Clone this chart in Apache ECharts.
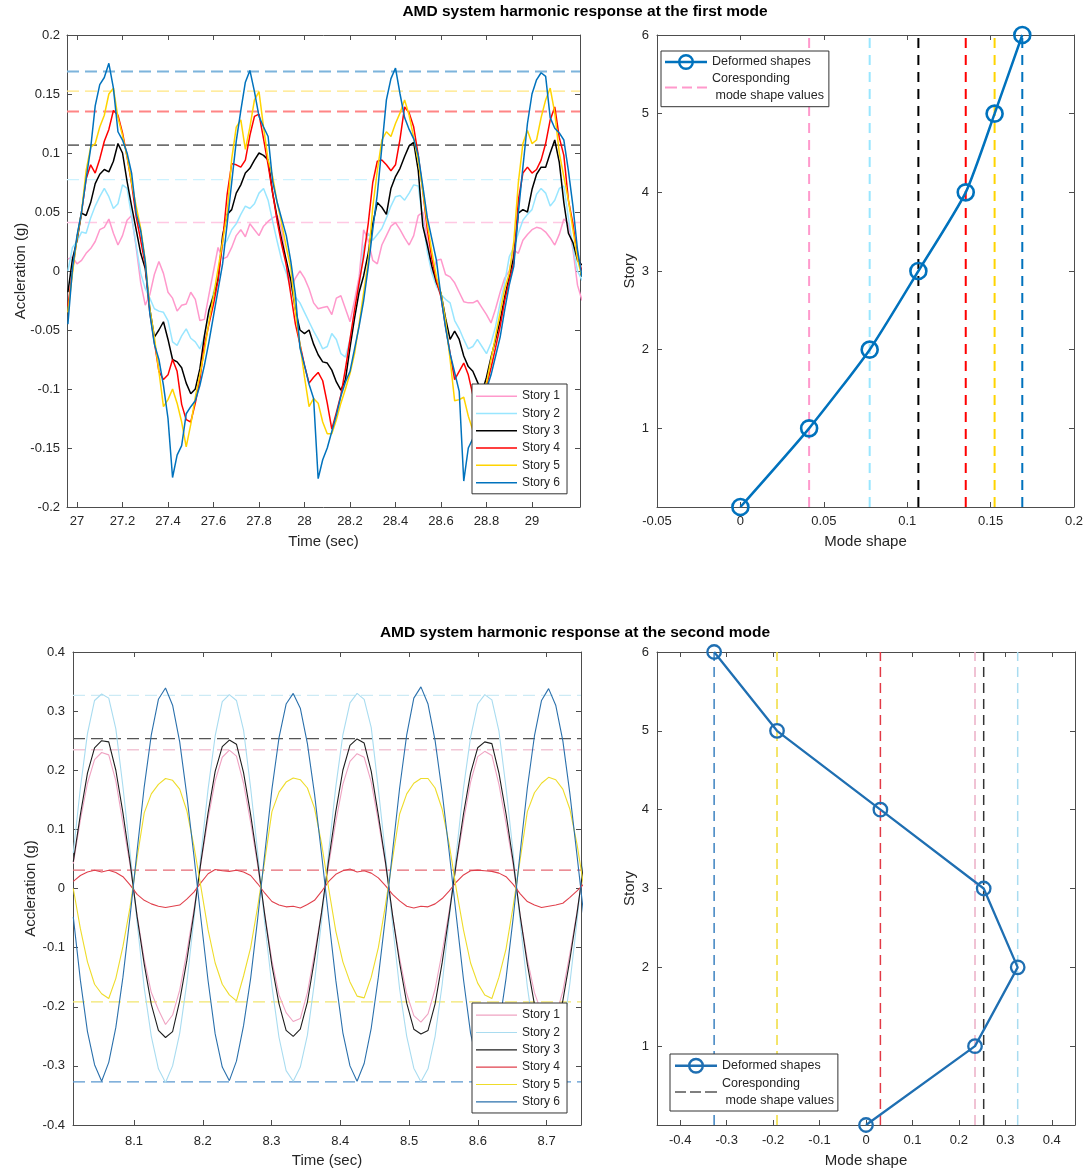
<!DOCTYPE html>
<html>
<head>
<meta charset="utf-8">
<script src="https://cdn.jsdelivr.net/npm/echarts@6/dist/echarts.min.js"></script>
<style>
  html, body { margin: 0; padding: 0; background: #ffffff; }
  #chart { width: 1088px; height: 1175px; }
</style>
</head>
<body>
<div id="chart"></div>
<script>
// ---------------------------------------------------------------------------
// Story labels and mode shape values (first and second mode)
// ---------------------------------------------------------------------------
const storyNames = ['Story 1', 'Story 2', 'Story 3', 'Story 4', 'Story 5', 'Story 6'];
const storyLevels = [0, 1, 2, 3, 4, 5, 6];
const modeShape1 = [0, 0.0412, 0.0775, 0.1067, 0.1351, 0.1524, 0.169];
const modeShape2 = [0, 0.2347, 0.3266, 0.2534, 0.031, -0.1916, -0.327];

// Tick labels
const firstTimeTicks = [27, 27.2, 27.4, 27.6, 27.8, 28, 28.2, 28.4, 28.6, 28.8, 29];
const secondTimeTicks = [8.1, 8.2, 8.3, 8.4, 8.5, 8.6, 8.7];
const storyTicks = [1, 2, 3, 4, 5, 6];
const secondModeTicks = [-0.4, -0.3, -0.2, -0.1, 0, 0.1, 0.2, 0.3, 0.4];

// ---------------------------------------------------------------------------
// First mode: floor accelerations (g), sampled every 0.02 s from 26.96 s
// ---------------------------------------------------------------------------
const firstStart = 26.96;
const firstStep = 0.02;

const story1First = [
  0.01, 0.012, 0.006, 0.009, 0.015, 0.019, 0.025, 0.035, 0.037, 0.044,
  0.032, 0.022, 0.03, 0.043, 0.047, 0.02, -0.01, -0.029, -0.02, -0.003,
  0.008, -0.002, -0.018, -0.023, -0.034, -0.029, -0.028, -0.018, -0.024, -0.042,
  -0.041, -0.02, 0.0, 0.02, 0.01, 0.012, 0.02, 0.03, 0.035, 0.029,
  0.04, 0.035, 0.03, 0.038, 0.042, 0.045, 0.047, 0.035, 0.005, -0.014,
  -0.006, 0.0, -0.006, -0.015, -0.027, -0.032, -0.031, -0.03, -0.037, -0.023,
  -0.021, -0.032, -0.043, -0.025, -0.005, 0.035, 0.026, 0.009, 0.006, 0.022,
  0.03, 0.038, 0.041, 0.035, 0.028, 0.022, 0.03, 0.047, 0.05, 0.025,
  -0.002, 0.009, 0.01, -0.003, -0.005, -0.01, -0.018, -0.026, -0.027, -0.027,
  -0.025, -0.031, -0.037, -0.044, -0.032, -0.018, -0.006, 0.0, 0.018, 0.015,
  0.026, 0.031, 0.035, 0.037, 0.036, 0.033, 0.028, 0.022, 0.031, 0.044,
  0.04, 0.018, -0.012, -0.025
];
const story2First = [
  0.0, 0.02, 0.025, 0.033, 0.032, 0.045, 0.055, 0.063, 0.07, 0.063,
  0.053, 0.057, 0.073, 0.07, 0.046, 0.022, -0.002, -0.015, -0.023, -0.032,
  -0.034, -0.035, -0.042, -0.06, -0.063, -0.055, -0.049, -0.057, -0.06, -0.066,
  -0.055, -0.035, -0.018, -0.005, 0.021, 0.026, 0.035, 0.04, 0.048, 0.055,
  0.053, 0.057, 0.066, 0.07, 0.06, 0.042, 0.025, 0.009, -0.002, -0.015,
  -0.022, -0.027, -0.035, -0.043, -0.051, -0.058, -0.066, -0.064, -0.053, -0.058,
  -0.07, -0.073, -0.058, -0.04, -0.014, 0.02, 0.032, 0.026, 0.031, 0.036,
  0.045, 0.055, 0.063, 0.064, 0.06, 0.066, 0.073, 0.072, 0.043, 0.016,
  -0.002, -0.013, -0.02, -0.024, -0.027, -0.042, -0.049, -0.058, -0.066, -0.064,
  -0.058, -0.064, -0.07, -0.061, -0.047, -0.027, -0.01, 0.012, 0.02, 0.032,
  0.043, 0.048, 0.052, 0.065, 0.07, 0.066, 0.055, 0.06, 0.07, 0.072,
  0.045, 0.02, 0.0, -0.008
];
const story3First = [
  -0.018, 0.01, 0.026, 0.049, 0.047, 0.058, 0.074, 0.082, 0.086, 0.084,
  0.093, 0.108, 0.1, 0.076, 0.055, 0.035, 0.015, 0.002, -0.032, -0.056,
  -0.05, -0.043, -0.058, -0.075, -0.077, -0.082, -0.095, -0.104, -0.1, -0.083,
  -0.055, -0.033, -0.021, -0.007, 0.03, 0.048, 0.052, 0.066, 0.073, 0.083,
  0.087, 0.094, 0.1, 0.098, 0.094, 0.066, 0.045, 0.026, 0.009, -0.008,
  -0.033, -0.05, -0.053, -0.05, -0.062, -0.071, -0.077, -0.078, -0.084, -0.094,
  -0.101, -0.092, -0.065, -0.04, -0.018, -0.004, 0.015, 0.04, 0.058, 0.054,
  0.048, 0.07, 0.08, 0.087, 0.097, 0.106, 0.109, 0.085, 0.038, 0.022,
  0.004, -0.01, -0.019, -0.04, -0.058, -0.051, -0.058, -0.072, -0.081, -0.085,
  -0.094, -0.103, -0.09, -0.073, -0.058, -0.042, -0.022, -0.005, 0.012, 0.049,
  0.052, 0.05, 0.069, 0.082, 0.088, 0.088, 0.1, 0.111, 0.092, 0.058,
  0.032, 0.024, 0.009, 0.005
];
const story4First = [
  -0.03, 0.0, 0.028, 0.05, 0.078, 0.09, 0.083, 0.095, 0.11, 0.12,
  0.136, 0.132, 0.117, 0.097, 0.074, 0.046, 0.026, 0.005, -0.035, -0.06,
  -0.085, -0.092, -0.088, -0.075, -0.085, -0.113, -0.126, -0.128, -0.112, -0.092,
  -0.063, -0.045, -0.028, -0.008, 0.025, 0.065, 0.091, 0.09, 0.088, 0.094,
  0.115, 0.131, 0.133, 0.112, 0.09, 0.066, 0.042, 0.022, 0.005, -0.02,
  -0.045, -0.062, -0.08, -0.095, -0.09, -0.086, -0.093, -0.112, -0.134, -0.12,
  -0.105, -0.083, -0.058, -0.033, -0.01, 0.012, 0.04, 0.075, 0.093, 0.094,
  0.09, 0.085, 0.09, 0.112, 0.139, 0.134, 0.122, 0.098, 0.068, 0.035,
  0.01, -0.008, -0.022, -0.047, -0.07, -0.092, -0.085, -0.078, -0.088, -0.105,
  -0.122, -0.115, -0.097, -0.082, -0.065, -0.047, -0.025, -0.008, 0.007, 0.06,
  0.083, 0.088, 0.083, 0.086, 0.094, 0.108, 0.128, 0.139, 0.113, 0.098,
  0.06, 0.04, 0.012, 0.0
];
const story5First = [
  -0.035, -0.002, 0.028, 0.05, 0.085, 0.105, 0.108, 0.122, 0.132, 0.15,
  0.155, 0.13, 0.115, 0.097, 0.075, 0.055, 0.036, 0.009, -0.032, -0.056,
  -0.085, -0.115, -0.109, -0.1, -0.112, -0.128, -0.149, -0.13, -0.107, -0.088,
  -0.068, -0.043, -0.021, 0.002, 0.025, 0.049, 0.095, 0.122, 0.128, 0.103,
  0.122, 0.145, 0.152, 0.122, 0.094, 0.08, 0.058, 0.04, 0.02, 0.002,
  -0.035, -0.062, -0.09, -0.115, -0.108, -0.112, -0.128, -0.138, -0.138, -0.126,
  -0.112, -0.1, -0.087, -0.07, -0.045, -0.018, 0.008, 0.054, 0.085, 0.111,
  0.118, 0.114, 0.125, 0.134, 0.145, 0.132, 0.113, 0.093, 0.068, 0.04,
  0.016, -0.005, -0.019, -0.042, -0.075, -0.11, -0.109, -0.107, -0.123, -0.135,
  -0.13, -0.115, -0.095, -0.075, -0.055, -0.035, -0.015, -0.002, 0.025, 0.075,
  0.108, 0.119, 0.108, 0.111, 0.13, 0.145, 0.155, 0.134, 0.1, 0.08,
  0.06, 0.035, 0.01, -0.005
];
const story6First = [
  -0.045, 0.002, 0.03, 0.05, 0.078, 0.104, 0.14, 0.158, 0.164, 0.176,
  0.155, 0.118, 0.111, 0.1, 0.083, 0.049, 0.034, 0.008, -0.036, -0.062,
  -0.075, -0.097, -0.125, -0.175, -0.156, -0.148, -0.121, -0.115, -0.11, -0.097,
  -0.08, -0.06, -0.038, -0.016, 0.006, 0.04, 0.075, 0.11, 0.136, 0.16,
  0.17, 0.152, 0.131, 0.122, 0.114, 0.076, 0.058, 0.044, 0.03, 0.008,
  -0.02, -0.065, -0.08, -0.096, -0.108, -0.176, -0.16, -0.15, -0.136, -0.122,
  -0.106, -0.094, -0.085, -0.066, -0.047, -0.025, 0.003, 0.035, 0.065, 0.105,
  0.145, 0.163, 0.172, 0.15, 0.13, 0.12, 0.112, 0.098, 0.072, 0.045,
  0.027, 0.009, -0.022, -0.048, -0.07, -0.086, -0.102, -0.178, -0.15, -0.142,
  -0.126, -0.112, -0.1, -0.088, -0.072, -0.056, -0.033, -0.012, 0.004, 0.049,
  0.088, 0.125, 0.15, 0.162, 0.168, 0.165, 0.13, 0.121, 0.117, 0.111,
  0.085, 0.055, 0.018, -0.005
];

// ---------------------------------------------------------------------------
// Second mode: floor accelerations (g), sampled every ~0.0103 s from 8.0117 s
// ---------------------------------------------------------------------------
const secondStart = 8.0117;
const secondStep = 0.0103167;

const story1Second = [
  0.042, 0.116, 0.178, 0.218,
  0.23, 0.226, 0.182, 0.11, 0.04, -0.046, -0.12, -0.176, -0.205, -0.23, -0.214, -0.172, -0.108, -0.036, 0.043, 0.118, 0.182, 0.222,
  0.234, 0.224, 0.178, 0.112, 0.038, -0.044, -0.122, -0.18, -0.21, -0.225, -0.22, -0.176, -0.11, -0.04, 0.04, 0.113, 0.176, 0.215,
  0.228, 0.222, 0.18, 0.114, 0.042, -0.045, -0.118, -0.178, -0.215, -0.226, -0.212, -0.17, -0.107, -0.037, 0.041, 0.114, 0.18, 0.223,
  0.232, 0.225, 0.176, 0.11, 0.04, -0.046, -0.12, -0.176, -0.21, -0.228, -0.216, -0.174, -0.11, -0.04, 0.04
];
const story2Second = [
  0.06, 0.17, 0.262, 0.318,
  0.329, 0.322, 0.27, 0.172, 0.062, -0.058, -0.168, -0.25, -0.305, -0.328, -0.3, -0.245, -0.16, -0.052, 0.058, 0.168, 0.258, 0.316,
  0.328, 0.318, 0.268, 0.17, 0.06, -0.06, -0.165, -0.252, -0.308, -0.326, -0.302, -0.248, -0.158, -0.055, 0.062, 0.172, 0.26, 0.314,
  0.33, 0.32, 0.272, 0.168, 0.058, -0.06, -0.17, -0.25, -0.304, -0.327, -0.305, -0.25, -0.162, -0.05, 0.06, 0.17, 0.256, 0.312,
  0.328, 0.319, 0.266, 0.17, 0.06, -0.058, -0.166, -0.25, -0.306, -0.327, -0.303, -0.246, -0.16, -0.055, 0.058
];
const story3Second = [
  0.045, 0.125, 0.195, 0.238,
  0.25, 0.248, 0.2, 0.128, 0.045, -0.048, -0.128, -0.196, -0.24, -0.252, -0.242, -0.19, -0.122, -0.042, 0.046, 0.128, 0.198, 0.24,
  0.251, 0.244, 0.196, 0.125, 0.044, -0.046, -0.13, -0.195, -0.24, -0.25, -0.238, -0.192, -0.12, -0.04, 0.048, 0.13, 0.2, 0.242,
  0.253, 0.246, 0.198, 0.124, 0.045, -0.045, -0.126, -0.194, -0.238, -0.246, -0.24, -0.195, -0.125, -0.043, 0.045, 0.126, 0.195, 0.238,
  0.248, 0.245, 0.195, 0.126, 0.046, -0.047, -0.128, -0.196, -0.24, -0.25, -0.24, -0.19, -0.12, -0.042, 0.045
];
const story4Second = [
  0.012, 0.022, 0.028, 0.031,
  0.028, 0.031, 0.027, 0.02, 0.006, -0.01, -0.02, -0.026, -0.03, -0.032, -0.03, -0.028, -0.018, -0.006, 0.01, 0.025, 0.032, 0.03,
  0.029, 0.031, 0.028, 0.022, 0.008, -0.008, -0.022, -0.028, -0.031, -0.03, -0.033, -0.027, -0.02, -0.005, 0.012, 0.024, 0.03, 0.033,
  0.028, 0.03, 0.026, 0.018, 0.005, -0.01, -0.021, -0.03, -0.033, -0.03, -0.031, -0.026, -0.017, -0.004, 0.011, 0.023, 0.03, 0.031,
  0.03, 0.029, 0.026, 0.02, 0.007, -0.009, -0.022, -0.028, -0.032, -0.03, -0.028, -0.025, -0.015, -0.004, 0.008
];
const story5Second = [
  0.0, -0.068, -0.124, -0.162,
  -0.178, -0.186, -0.152, -0.098, -0.032, 0.052, 0.128, 0.16, 0.176, 0.186, 0.183, 0.168, 0.132, 0.072, 0.002, -0.07, -0.126, -0.162,
  -0.18, -0.19, -0.148, -0.1, -0.03, 0.048, 0.13, 0.163, 0.18, 0.187, 0.184, 0.17, 0.136, 0.076, 0.0, -0.072, -0.124, -0.158,
  -0.182, -0.185, -0.15, -0.1, -0.028, 0.05, 0.126, 0.16, 0.178, 0.186, 0.186, 0.17, 0.134, 0.074, -0.002, -0.07, -0.126, -0.16,
  -0.18, -0.186, -0.15, -0.102, -0.03, 0.05, 0.13, 0.162, 0.178, 0.188, 0.184, 0.168, 0.134, 0.075, 0.0
];
const story6Second = [
  -0.048, -0.155, -0.242, -0.298,
  -0.326, -0.294, -0.235, -0.15, -0.048, 0.064, 0.172, 0.26, 0.32, 0.339, 0.31, 0.248, 0.158, 0.056, -0.052, -0.156, -0.246, -0.302,
  -0.325, -0.292, -0.232, -0.152, -0.05, 0.06, 0.168, 0.255, 0.312, 0.33, 0.305, 0.245, 0.16, 0.058, -0.05, -0.155, -0.244, -0.3,
  -0.326, -0.296, -0.236, -0.15, -0.048, 0.062, 0.17, 0.26, 0.322, 0.341, 0.312, 0.25, 0.162, 0.06, -0.048, -0.154, -0.245, -0.298,
  -0.325, -0.294, -0.234, -0.152, -0.05, 0.062, 0.17, 0.258, 0.318, 0.338, 0.31, 0.25, 0.16, 0.056, -0.05
];

// ---------------------------------------------------------------------------
// Styling
// ---------------------------------------------------------------------------
const FONT = "'Liberation Sans', Arial, Helvetica, sans-serif";
const AXIS_COLOR = '#4d4d4d';
const LABEL_COLOR = '#262626';

const firstColors = ['#FF99CC', '#99E6FF', '#000000', '#FF0000', '#FFD400', '#0072BD'];
const firstRefColors = ['#FFC8E3', '#CCF2FF', '#707070', '#FF8585', '#FFE680', '#7DB4DC'];
const secondColors = ['#EFA3C2', '#A9DCF0', '#1E1E1E', '#E0404C', '#EEDC2A', '#2A70AC'];
const secondRefColors = ['#F2C6D6', '#CDEBF5', '#555555', '#E56A74', '#F2E66E', '#5A98CF'];
const secondVertColors = ['#EBAFC6', '#A9DCF0', '#333333', '#E23A46', '#F0DC3A', '#3C82C0'];

// Legend icons (drawn in their own itemWidth x itemHeight boxes)
const LINE_ICON = 'path://M0,0h41v1.5h-41z';
const THIN_LINE_ICON = 'path://M0,0h41v1.2h-41z';
const MARKER_ICON = 'path://M0,6.8h42v2.4h-42z M21,0a8,8 0 1,1 0,16a8,8 0 1,1 0,-16z M21,2.4a5.6,5.6 0 1,0 0,11.2a5.6,5.6 0 1,0 0,-11.2z';
const DASH_ICON = 'path://M0,0h0.01v0.01h-0.01z M41.99,15.99h0.01v0.01h-0.01z M0,7h12v2h-12z M17,7h10v2h-10z M32,7h10v2h-10z';
const DASH_ICON_THIN = 'path://M0,0h0.01v0.01h-0.01z M41.99,15.99h0.01v0.01h-0.01z M0,7.3h11v1.4h-11z M15,7.3h11v1.4h-11z M30,7.3h12v1.4h-12z';

const CORRESPONDING = 'Coresponding\n mode shape values';

function timePairs(start, step, values) {
  return values.map((v, i) => [+(start + i * step).toFixed(5), v]);
}

function makeAxis(dim, gridIndex, position, min, max, ticks, opts) {
  const axis = {
    type: 'value', gridIndex: gridIndex, position: position, min: min, max: max,
    axisLine: { show: true, onZero: false, lineStyle: { color: AXIS_COLOR, width: 1 } },
    axisTick: { show: true, inside: true, length: 5, lineStyle: { color: AXIS_COLOR, width: 1 } },
    axisLabel: {
      show: !opts.mirror, margin: opts.margin || 8, fontSize: 13, color: LABEL_COLOR,
      fontFamily: FONT, showMinLabel: true, showMaxLabel: true, hideOverlap: false
    },
    splitLine: { show: false },
    nameMoveOverlap: false
  };
  if (ticks.interval) axis.interval = ticks.interval;
  if (ticks.values) {
    axis.axisLabel.customValues = ticks.values;
    axis.axisTick.customValues = ticks.values;
  }
  if (opts.name) {
    axis.name = opts.name;
    axis.nameLocation = 'middle';
    axis.nameGap = opts.nameGap;
    if (dim === 'y') axis.nameRotate = 90;
    axis.nameTextStyle = { fontSize: 15, color: LABEL_COLOR, fontFamily: FONT };
  }
  return axis;
}

// Axis extents of the four panels
const FIRST_T = [26.956, 29.211];
const SECOND_T = [8.0113, 8.75];

const xAxes = [
  makeAxis('x', 0, 'bottom', FIRST_T[0], FIRST_T[1], { values: firstTimeTicks }, { name: 'Time (sec)', nameGap: 27, margin: 8 }),
  makeAxis('x', 0, 'top', FIRST_T[0], FIRST_T[1], { values: firstTimeTicks }, { mirror: true }),
  makeAxis('x', 1, 'bottom', -0.05, 0.2, { interval: 0.05 }, { name: 'Mode shape', nameGap: 27, margin: 8 }),
  makeAxis('x', 1, 'top', -0.05, 0.2, { interval: 0.05 }, { mirror: true }),
  makeAxis('x', 2, 'bottom', SECOND_T[0], SECOND_T[1], { values: secondTimeTicks }, { name: 'Time (sec)', nameGap: 28, margin: 10 }),
  makeAxis('x', 2, 'top', SECOND_T[0], SECOND_T[1], { values: secondTimeTicks }, { mirror: true }),
  makeAxis('x', 3, 'bottom', -0.45, 0.45, { values: secondModeTicks }, { name: 'Mode shape', nameGap: 28, margin: 9 }),
  makeAxis('x', 3, 'top', -0.45, 0.45, { values: secondModeTicks }, { mirror: true })
];
const yAxes = [
  makeAxis('y', 0, 'left', -0.2, 0.2, { interval: 0.05 }, { name: 'Accleration (g)', nameGap: 39, margin: 7 }),
  makeAxis('y', 0, 'right', -0.2, 0.2, { interval: 0.05 }, { mirror: true }),
  makeAxis('y', 1, 'left', 0, 6, { values: storyTicks }, { name: 'Story', nameGap: 20, margin: 8 }),
  makeAxis('y', 1, 'right', 0, 6, { values: storyTicks }, { mirror: true }),
  makeAxis('y', 2, 'left', -0.4, 0.4, { interval: 0.1 }, { name: 'Accleration (g)', nameGap: 35, margin: 8 }),
  makeAxis('y', 2, 'right', -0.4, 0.4, { interval: 0.1 }, { mirror: true }),
  makeAxis('y', 3, 'left', 0, 6, { values: storyTicks }, { name: 'Story', nameGap: 20, margin: 8 }),
  makeAxis('y', 3, 'right', 0, 6, { values: storyTicks }, { mirror: true })
];

// ---------------------------------------------------------------------------
// Series
// ---------------------------------------------------------------------------
const series = [];
const firstSeriesValues = [story1First, story2First, story3First, story4First, story5First, story6First];
const secondSeriesValues = [story1Second, story2Second, story3Second, story4Second, story5Second, story6Second];
const refWidths1 = [1.5, 1.2, 1.8, 2, 1.2, 2];

// First mode, time histories: reference level of each story (dashed) underneath
storyNames.forEach((name, s) => {
  const v = modeShape1[s + 1];
  series.push({
    type: 'line', name: name + ' first-mode value', xAxisIndex: 0, yAxisIndex: 0,
    data: [[FIRST_T[0], v], [FIRST_T[1], v]], symbol: 'none', silent: true, z: 1,
    lineStyle: { color: firstRefColors[s], width: refWidths1[s], type: [12, 6] },
    itemStyle: { color: firstRefColors[s] }
  });
});
firstSeriesValues.forEach((vals, s) => {
  series.push({
    type: 'line', name: storyNames[s], xAxisIndex: 0, yAxisIndex: 0,
    data: timePairs(firstStart, firstStep, vals), symbol: 'none', z: 3,
    lineStyle: { color: firstColors[s], width: 1.5 },
    itemStyle: { color: firstColors[s] }
  });
});

// First mode, deformed shape with the corresponding values
storyNames.forEach((name, s) => {
  const v = modeShape1[s + 1];
  series.push({
    type: 'line', name: s === 0 ? CORRESPONDING : name + ' first-mode line',
    xAxisIndex: 2, yAxisIndex: 2,
    data: [[v, storyLevels[0]], [v, storyLevels[6]]], symbol: 'none', silent: true, z: 2,
    lineStyle: { color: firstColors[s], width: 2, type: [10, 7] },
    itemStyle: { color: firstColors[s] }
  });
});
series.push({
  type: 'line', name: 'Deformed shapes', xAxisIndex: 2, yAxisIndex: 2,
  data: modeShape1.map((v, i) => [v, storyLevels[i]]),
  smooth: 0.2,
  symbol: 'circle', symbolSize: 16, z: 4,
  lineStyle: { color: '#0072BD', width: 2.5 },
  itemStyle: { color: 'rgba(255,255,255,0)', borderColor: '#0072BD', borderWidth: 2.6 }
});

// Second mode, time histories
storyNames.forEach((name, s) => {
  const v = modeShape2[s + 1];
  series.push({
    type: 'line', name: name + ' second-mode value', xAxisIndex: 4, yAxisIndex: 4,
    data: [[SECOND_T[0], v], [SECOND_T[1], v]], symbol: 'none', silent: true, z: 1,
    lineStyle: { color: secondRefColors[s], width: 1.3, type: [12, 6] },
    itemStyle: { color: secondRefColors[s] }
  });
});
secondSeriesValues.forEach((vals, s) => {
  series.push({
    type: 'line', name: storyNames[s], xAxisIndex: 4, yAxisIndex: 4,
    data: timePairs(secondStart, secondStep, vals), symbol: 'none', z: 3,
    lineStyle: { color: secondColors[s], width: 1.1 },
    itemStyle: { color: secondColors[s] }
  });
});

// Second mode, deformed shape with the corresponding values
storyNames.forEach((name, s) => {
  const v = modeShape2[s + 1];
  series.push({
    type: 'line', name: name + ' second-mode line', xAxisIndex: 6, yAxisIndex: 6,
    data: [[v, storyLevels[0]], [v, storyLevels[6]]], symbol: 'none', silent: true, z: 2,
    lineStyle: { color: secondVertColors[s], width: 1.5, type: [10, 6] },
    itemStyle: { color: secondVertColors[s] }
  });
});
series.push({
  type: 'line', name: 'Deformed shapes', xAxisIndex: 6, yAxisIndex: 6,
  data: modeShape2.map((v, i) => [v, storyLevels[i]]),
  symbol: 'circle', symbolSize: 13.5, z: 4,
  lineStyle: { color: '#1F6FB2', width: 2.3 },
  itemStyle: { color: 'rgba(255,255,255,0)', borderColor: '#1F6FB2', borderWidth: 2.3 }
});

// ---------------------------------------------------------------------------
// Legends
// ---------------------------------------------------------------------------
const legendText = (size, lh) => ({ fontSize: size, lineHeight: lh, color: LABEL_COLOR, fontFamily: FONT });

const legends = [
  {
    orient: 'vertical', left: 472, top: 384, padding: [6, 7, 5, 4],
    itemWidth: 41, itemHeight: 1.5, itemGap: 5,
    borderColor: '#333333', borderWidth: 1, backgroundColor: '#ffffff',
    itemStyle: { borderWidth: 0 }, textStyle: legendText(12, 12.3),
    data: storyNames.map((n, s) => ({ name: n, icon: LINE_ICON, itemStyle: { color: firstColors[s] } }))
  },
  {
    orient: 'vertical', left: 661, top: 51, padding: [2.5, 5, 2.2, 4],
    itemWidth: 42, itemHeight: 16, itemGap: 0,
    borderColor: '#333333', borderWidth: 1, backgroundColor: '#ffffff',
    itemStyle: { borderWidth: 0 }, textStyle: legendText(12.5, 17),
    data: [
      { name: 'Deformed shapes', icon: MARKER_ICON, itemStyle: { color: '#0072BD' } },
      { name: CORRESPONDING, icon: DASH_ICON, itemStyle: { color: firstColors[0] } }
    ]
  },
  {
    orient: 'vertical', left: 472, top: 1003, padding: [6, 7, 5, 4],
    itemWidth: 41, itemHeight: 1.2, itemGap: 5,
    borderColor: '#333333', borderWidth: 1, backgroundColor: '#ffffff',
    itemStyle: { borderWidth: 0 }, textStyle: legendText(12, 12.33),
    data: storyNames.map((n, s) => ({ name: n, icon: THIN_LINE_ICON, itemStyle: { color: secondColors[s] } }))
  },
  {
    orient: 'vertical', left: 670, top: 1054, padding: [3, 4, 1.5, 5],
    itemWidth: 42, itemHeight: 16, itemGap: 0,
    borderColor: '#333333', borderWidth: 1, backgroundColor: '#ffffff',
    itemStyle: { borderWidth: 0 }, textStyle: legendText(12.5, 17.5),
    data: [
      { name: 'Deformed shapes', icon: MARKER_ICON, itemStyle: { color: '#1F6FB2' } },
      { name: CORRESPONDING, icon: DASH_ICON_THIN, itemStyle: { color: '#555555' } }
    ]
  }
];

const titleStyle = { fontSize: 15.5, fontWeight: 'bold', color: '#000000', fontFamily: FONT };

const option = {
  animation: false,
  backgroundColor: '#ffffff',
  textStyle: { fontFamily: FONT },
  title: [
    { text: 'AMD system harmonic response at the first mode', left: 585, top: 4, padding: 0,
      textAlign: 'center', textStyle: titleStyle },
    { text: 'AMD system harmonic response at the second mode', left: 575, top: 625, padding: 0,
      textAlign: 'center', textStyle: titleStyle }
  ],
  grid: [
    { left: 67, top: 35, width: 513, height: 472, outerBoundsMode: 'none' },
    { left: 657, top: 35, width: 417, height: 472, outerBoundsMode: 'none' },
    { left: 73, top: 652, width: 508, height: 473, outerBoundsMode: 'none' },
    { left: 657, top: 652, width: 418, height: 473, outerBoundsMode: 'none' }
  ],
  xAxis: xAxes,
  yAxis: yAxes,
  legend: legends,
  series: series
};

const chart = echarts.init(document.getElementById('chart'), null, { renderer: 'canvas' });
chart.setOption(option);
</script>
</body>
</html>
